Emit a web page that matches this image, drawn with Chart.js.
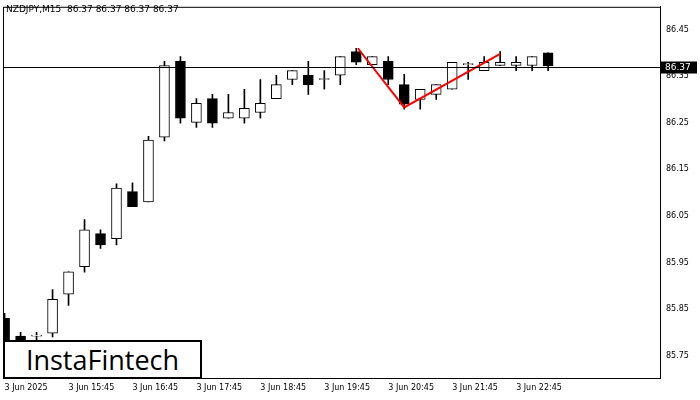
<!DOCTYPE html>
<html><head><meta charset="utf-8">
<script src="https://cdn.jsdelivr.net/npm/chart.js@4.4.1/dist/chart.umd.min.js"></script>
<style>
body{margin:0;background:#fff;}
#wrap{position:relative;width:700px;height:400px;}
#title{position:absolute;left:6px;top:4px;font:9px "DejaVu Sans",sans-serif;color:#000;}
#logo{position:absolute;left:3px;top:340px;width:195px;height:35px;border:2px solid #000;background:#fff;font:27px "Open Sans",sans-serif;line-height:35px;text-align:center;color:#000;}
</style></head><body>
<div id="wrap"><canvas id="c" width="700" height="400"></canvas>
<div id="title">NZDJPY,M15&nbsp; 86.37 86.37 86.37 86.37</div>
<div id="logo">InstaFintech</div></div>
<script>
const opens  =[85.830,85.792,85.792,85.798,85.882,85.941,86.012,86.001,86.102,86.080,86.219,86.382,86.251,86.302,86.260,86.260,86.272,86.302,86.343,86.352,86.343,86.352,86.403,86.375,86.382,86.332,86.300,86.311,86.322,86.375,86.362,86.373,86.373,86.373,86.400];
const highs  =[85.841,85.800,85.800,85.892,85.930,86.042,86.020,86.119,86.121,86.221,86.382,86.392,86.302,86.311,86.311,86.322,86.343,86.352,86.362,86.382,86.362,86.392,86.410,86.392,86.392,86.354,86.322,86.332,86.380,86.380,86.392,86.403,86.392,86.392,86.400];
const lows   =[85.760,85.775,85.783,85.790,85.858,85.929,85.980,85.988,86.070,86.080,86.211,86.249,86.240,86.240,86.260,86.249,86.260,86.302,86.332,86.311,86.322,86.332,86.375,86.375,86.332,86.279,86.279,86.300,86.322,86.343,86.362,86.373,86.362,86.362,86.362];
const closes =[85.780,85.783,85.792,85.871,85.930,86.020,85.988,86.110,86.070,86.213,86.373,86.260,86.292,86.249,86.272,86.281,86.292,86.332,86.362,86.332,86.343,86.392,86.380,86.392,86.343,86.290,86.322,86.332,86.380,86.375,86.380,86.380,86.380,86.392,86.372];
const xLabels={0:"3 Jun 2025",4:"3 Jun 15:45",8:"3 Jun 16:45",12:"3 Jun 17:45",16:"3 Jun 18:45",20:"3 Jun 19:45",24:"3 Jun 20:45",28:"3 Jun 21:45",32:"3 Jun 22:45"};
const yTicks=[85.75,85.85,85.95,86.05,86.15,86.25,86.35,86.45];
const currentPrice=86.37;
const redX=[22.1,25,31];
const redY=[86.410,86.283,86.398];

const wicks=opens.map((o,i)=>({x:i,y:[lows[i],highs[i]]}));
const bodies=opens.map((o,i)=>({x:i,y:[o,closes[i]]}));
const bodyColors=opens.map((o,i)=>closes[i]<o?'#000':'#fff');

const overlay={id:'overlay',afterDatasetsDraw(ch){
  const {ctx,chartArea:a,scales:{y}}=ch;
  ctx.save();
  ctx.strokeStyle='#000';ctx.lineWidth=1;
  ctx.strokeRect(a.left+0.5,a.top+0.5,a.right-a.left,a.bottom-a.top);
  const py=Math.round(y.getPixelForValue(currentPrice))+0.5;
  ctx.beginPath();ctx.moveTo(a.left,py);ctx.lineTo(a.right,py);ctx.stroke();
  ctx.fillStyle='#000';ctx.fillRect(a.right+1,py-6,36,12);
  ctx.fillStyle='#fff';ctx.font='9px "DejaVu Sans"';ctx.textBaseline='middle';
  ctx.fillText(currentPrice.toFixed(2),a.right+5,py);
  ctx.restore();
}};

new Chart(document.getElementById('c'),{
  data:{datasets:[
    {type:'bar',data:wicks,backgroundColor:'#000',barThickness:1,grouped:false,order:3},
    {type:'bar',data:bodies,backgroundColor:bodyColors,borderColor:'#000',borderWidth:1,borderSkipped:false,barThickness:10,minBarLength:1,grouped:false,order:2},
    {type:'line',data:redX.map((x,i)=>({x,y:redY[i]})),borderColor:'#ff0000',borderWidth:2,pointRadius:0,order:1}
  ]},
  options:{responsive:false,animation:false,
    layout:{padding:{left:3,top:5,right:0,bottom:0}},
    plugins:{legend:{display:false},tooltip:{enabled:false}},
    scales:{
      x:{type:'linear',offset:false,min:-0.1,max:41,grid:{display:false,drawTicks:true,tickLength:4},border:{display:true,color:'#000'},
        afterBuildTicks(s){s.ticks=Object.keys(xLabels).map(k=>({value:+k}));},
        afterFit(s){s.height=22;},
        ticks:{align:'start',maxRotation:0,autoSkip:false,padding:1,color:'#000',font:{family:'DejaVu Sans',size:8},callback:v=>xLabels[v]||''}},
      y:{position:'right',min:85.702,max:86.499,grid:{display:false,tickLength:4},border:{display:true,color:'#000'},
        afterBuildTicks(s){s.ticks=yTicks.map(v=>({value:v}));},
        afterFit(s){s.width=40;},
        ticks:{padding:2,color:'#000',font:{family:'DejaVu Sans',size:8},callback:v=>v.toFixed(2)}}
    }},
  plugins:[overlay]
});
</script></body></html>
